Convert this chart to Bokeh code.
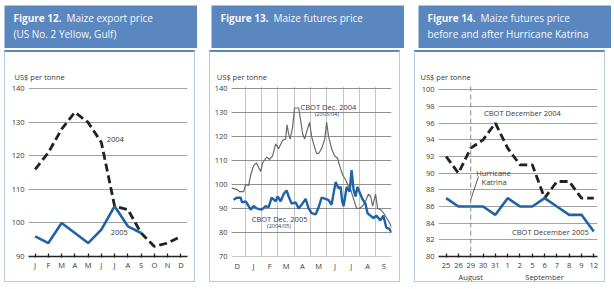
from bokeh.plotting import figure
from bokeh.layouts import row, column
from bokeh.models import Range1d, FixedTicker, Span, Spacer
from bokeh.core.properties import value
from bokeh.embed import file_html
from bokeh.resources import INLINE

FONT = "Open Sans"
HEAD_BG = "#5b87c1"
BOX = "#b7cbe4"
BLUE = "#1f62a6"
GRID = "#a3a3a3"
VGRID = "#c4c4c4"
TXT = "#3a3a3a"

# ---------------- data ----------------
# Figure 12: maize export price (US No. 2 Yellow, Gulf), US$/tonne
months12 = ["J", "F", "M", "A", "M", "J", "J", "A", "S", "O", "N", "D"]
export_2004 = [116, 121, 128, 133, 130, 124, 105, 104, 97, 93, 94, 96]
export_2005 = [96, 94, 100, 97, 94, 98, 105, 99, 97]

# Figure 13: maize futures price; time in months since 1 December
fut_months = ["D", "J", "F", "M", "A", "M", "J", "J", "A", "S"]
cbot2004_t = [0.16, 0.47, 0.65, 0.90, 1.02, 1.20, 1.33, 1.51, 1.69, 1.82, 1.94, 2.06, 2.31, 2.49,
              2.67, 2.86, 3.04, 3.29, 3.47, 3.56, 3.66, 3.75, 3.90, 4.02, 4.27, 4.39, 4.52, 4.64,
              4.76, 4.94, 5.07, 5.19, 5.37, 5.50, 5.68, 5.87, 5.99, 6.11, 6.29, 6.48, 6.66, 6.78,
              6.97, 7.15, 7.28, 7.46, 7.64, 7.83, 8.01, 8.20, 8.38, 8.56, 8.69, 8.81, 8.99, 9.12,
              9.30, 9.49, 9.67, 9.85, 9.97]
cbot2004_v = [98.5, 98, 97, 97, 100, 99.5, 104, 108, 109, 107, 105.5, 109, 111.5, 110.5,
              112, 117, 115, 118.5, 119, 125, 121, 119, 124, 132, 132, 127, 121, 119,
              122, 126, 120, 117, 113, 113, 115, 119, 126, 120, 115, 112, 111, 108,
              104, 102, 100, 98, 94, 90, 90, 91, 93, 96, 95, 91, 96, 90,
              89.5, 88, 86, 84, 82]
cbot2005_t = [0.28, 0.47, 0.71, 0.80, 1.02, 1.11, 1.33, 1.51, 1.69, 2.00, 2.25, 2.43, 2.61, 2.86,
              2.98, 3.17, 3.35, 3.53, 3.66, 3.84, 4.09, 4.27, 4.45, 4.70, 4.88, 5.07, 5.31, 5.50,
              5.68, 5.93, 6.11, 6.29, 6.54, 6.72, 6.85, 6.94, 7.03, 7.22, 7.40, 7.52, 7.64, 7.76,
              7.88, 8.06, 8.18, 8.37, 8.50, 8.68, 8.86, 9.04, 9.29, 9.47, 9.65, 9.84, 9.97]
cbot2005_v = [93.6, 94.5, 94.5, 92.5, 93, 92, 89.5, 91, 90, 89.5, 91, 90.5, 94.5, 93,
              95, 93, 96, 97.5, 95, 92, 92.5, 90, 91.5, 94, 90, 88, 87.5, 90.5,
              94.5, 94, 93.5, 91.5, 101, 98.5, 99, 93, 91, 99, 97, 106, 98, 95,
              99, 96, 94, 92, 88, 87, 86, 87, 85, 87, 82, 81.5, 80]

# Figure 14: futures before and after Hurricane Katrina
days = ["25", "26", "29", "30", "31", "1", "2", "5", "6", "7", "8", "9", "12"]
month_names = {"29": "August", "6": "September"}
katrina_day = "29"
dec2004 = [92, 90, 93, 94, 96, 93, 91, 91, 87, 89, 89, 87, 87]
dec2005 = [87, 86, 86, 86, 85, 87, 86, 86, 87, 86, 85, 85, 83]

PW = 193          # panel width (incl. 1px borders)
CW = PW - 2       # canvas width of chart figure
HC = 232          # canvas height of chart figure
HH = 43           # header height
MT, MB = 34, 26   # minimum top / bottom borders of the chart frames


# ---------------- helpers ----------------
def header(bold, rest1, line2, W=PW, H=HH):
    h = figure(width=W, height=H, x_range=Range1d(0, W), y_range=Range1d(H, 0),
               x_axis_type=None, y_axis_type=None,
               output_backend="svg", toolbar_location=None, min_border=0,
               background_fill_color=HEAD_BG, border_fill_color=HEAD_BG,
               outline_line_color=None)
    h.grid.visible = False
    common = dict(text_font=value(FONT), text_font_size=value("10px"),
                  text_color="#f4f7fb", text_baseline="middle", text_align="left")
    h.text(x=[9], y=[12], text=[bold], text_font_style="bold", **common)
    h.text(x=[62], y=[12], text=[rest1], **common)
    if line2:
        h.text(x=[9], y=[28.5], text=[line2], **common)
    return h


def chart(xr, yr, ml, mr, title_offset):
    p = figure(width=CW, height=HC, x_range=xr, y_range=yr, output_backend="svg",
               toolbar_location=None, min_border_left=ml, min_border_right=mr,
               min_border_top=MT, min_border_bottom=MB, outline_line_color=None,
               title="US$ per tonne")
    p.styles = {"border": f"1px solid {BOX}", "border-top": f"2px solid {HEAD_BG}"}
    p.title.text_font = FONT
    p.title.text_font_size = "7.5px"
    p.title.text_font_style = "normal"
    p.title.text_color = TXT
    p.title.align = "left"
    p.title.offset = title_offset
    p.title.standoff = 9
    for ax in (p.xaxis[0], p.yaxis[0]):
        ax.major_label_text_font = FONT
        ax.major_label_text_font_size = "7.5px"
        ax.major_label_text_color = TXT
        ax.minor_tick_line_color = None
    p.yaxis.axis_line_color = None
    p.yaxis.major_tick_line_color = None
    p.yaxis.major_tick_in = 0
    p.yaxis.major_tick_out = 0
    p.yaxis.major_label_standoff = 4
    p.ygrid.grid_line_color = GRID
    p.ygrid.grid_line_width = 1
    return p


def month_axis(p):
    p.xaxis.axis_line_color = "#222"
    p.xaxis.axis_line_width = 1.5
    p.xaxis.major_tick_line_color = "#222"
    p.xaxis.major_tick_line_width = 1.3
    p.xaxis.major_tick_in = 3
    p.xaxis.major_tick_out = 1
    p.xaxis.major_label_standoff = 2


lab = dict(text_font=value(FONT), text_font_size=value("7.5px"), text_color=TXT,
           text_baseline="middle")
small = dict(text_font=value(FONT), text_font_size=value("5.5px"), text_color=TXT,
             text_baseline="middle")

# ---------------- Figure 12 ----------------
h1 = header("Figure 12.", "Maize export price", "(US No. 2 Yellow, Gulf)")
x12 = list(range(1, len(months12) + 1))
p1 = chart(Range1d(0.5, 12.5), Range1d(90, 140.7), 23, 9, -14)
p1.yaxis.ticker = FixedTicker(ticks=[90, 100, 110, 120, 130, 140])
p1.ygrid.ticker = FixedTicker(ticks=[100, 110, 120, 130, 140])
p1.xgrid.visible = False
p1.xaxis.ticker = FixedTicker(ticks=x12)
p1.xaxis.major_label_overrides = {i: m for i, m in zip(x12, months12)}
month_axis(p1)
p1.line(x12, export_2004, line_color="#222", line_width=2.8, line_dash="8 4")
p1.line(x12[:len(export_2005)], export_2005, line_color=BLUE, line_width=2.6)
p1.text(x=[6.4], y=[125.0], text=["2004"], text_align="left", **lab)
p1.text(x=[6.7], y=[97.1], text=["2005"], text_align="left", **lab)

# ---------------- Figure 13 ----------------
h2 = header("Figure 13.", "Maize futures price", "")
p2 = chart(Range1d(0.15, 9.97), Range1d(69.9, 141), 21, 10, -14.7)
p2.yaxis.ticker = FixedTicker(ticks=[70, 80, 90, 100, 110, 120, 130, 140])
p2.ygrid.ticker = FixedTicker(ticks=[70, 80, 90, 100, 110, 120, 130, 140])
p2.ygrid.grid_line_color = "#8f8f8f"
centers = [i + 0.5 for i in range(len(fut_months))]
p2.xaxis.ticker = FixedTicker(ticks=centers)
p2.xaxis.major_label_overrides = {c: m for c, m in zip(centers, fut_months)}
p2.xaxis.axis_line_color = None
p2.xaxis.major_tick_line_color = None
p2.xaxis.major_tick_in = 0
p2.xaxis.major_tick_out = 0
p2.xaxis.major_label_standoff = 4
p2.xgrid.ticker = FixedTicker(ticks=list(range(1, len(fut_months))))
p2.xgrid.grid_line_color = VGRID
p2.line(cbot2004_t, cbot2004_v, line_color="#6a6a6a", line_width=1.2)
p2.line(cbot2005_t, cbot2005_v, line_color=BLUE, line_width=2.4)
p2.text(x=[6.1], y=[132.4], text=["CBOT Dec. 2004"], text_align="center", **lab)
p2.text(x=[6.0], y=[129.6], text=["(2003/04)"], text_align="center", **small)
p2.text(x=[3.1], y=[85.6], text=["CBOT Dec. 2005"], text_align="center", **lab)
p2.text(x=[3.07], y=[82.7], text=["(2004/05)"], text_align="center", **small)

# ---------------- Figure 14 ----------------
h3 = header("Figure 14.", "Maize futures price", "before and after Hurricane Katrina")
xi = list(range(len(days)))
p3 = chart(Range1d(-0.62, 12.3), Range1d(80, 100.4), 23, 9, -18)
p3.yaxis.ticker = FixedTicker(ticks=list(range(80, 101, 2)))
p3.ygrid.ticker = FixedTicker(ticks=list(range(82, 101, 2)))
p3.xgrid.visible = False
p3.xaxis.ticker = FixedTicker(ticks=xi)
p3.xaxis.major_label_overrides = {
    i: (d + "\n" + month_names[d] if d in month_names else d) for i, d in zip(xi, days)}
month_axis(p3)
p3.add_layout(Span(location=days.index(katrina_day), dimension="height",
                   line_color="#8a8a8a", line_width=1, line_dash="5 3"))
p3.line(xi, dec2004, line_color="#222", line_width=2.8, line_dash="8 4")
p3.line(xi, dec2005, line_color=BLUE, line_width=2.6)
p3.text(x=[6.2], y=[97.2], text=["CBOT December 2004"], text_align="center", **lab)
p3.text(x=[3.85], y=[90.0], text=["Hurricane"], text_align="center", **lab)
p3.text(x=[3.9], y=[89.0], text=["Katrina"], text_align="center", **lab)
p3.segment(x0=[1.95], y0=[86.6], x1=[2.63], y1=[89.6], line_color="#333", line_width=0.8)
p3.text(x=[11.6], y=[82.9], text=["CBOT December 2005"], text_align="right", **lab)

heads = row(h1, h2, h3, spacing=14)
charts = row(p1, p2, p3, spacing=14)
layout = column(Spacer(height=5), row(Spacer(width=4), column(heads, charts, spacing=2)))

open("out.html", "w").write(file_html(layout, INLINE))
